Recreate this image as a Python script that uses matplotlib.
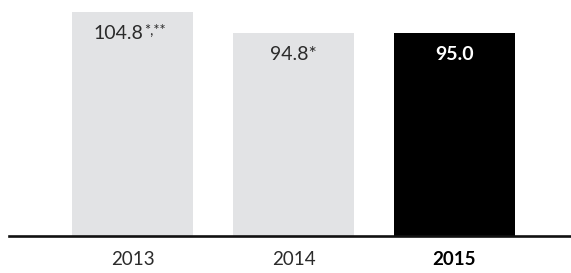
import matplotlib
matplotlib.use("Agg")
import matplotlib.pyplot as plt

plt.rcParams["font.family"] = ["Lato", "DejaVu Sans"]

years = ["2013", "2014", "2015"]
values = [104.8, 94.8, 95.0]
value_labels = ["104.8", "94.8*", "95.0"]
value_notes = ["*,**", "", ""]
bar_colors = ["#e2e3e5", "#e2e3e5", "#000000"]
label_colors = ["#2b2b2b", "#2b2b2b", "#ffffff"]
label_weights = ["normal", "normal", "bold"]

fig = plt.figure(figsize=(5.71, 2.73), dpi=100)
ax = fig.add_axes([9 / 571, 37.5 / 273, 562 / 571, 235.5 / 273])

x = list(range(len(years)))
ax.bar(x, values, width=0.75, color=bar_colors, zorder=2)

ax.set_xlim(-0.767, 2.724)
ax.set_ylim(0, 110.4)

for xi, v, lab, note, c, w in zip(x, values, value_labels, value_notes,
                                   label_colors, label_weights):
    # shift left when a superscript note follows, so the whole string stays centred
    dx = -10 if note else 0
    t = ax.annotate(lab, xy=(xi, v), xytext=(dx, -15.5), textcoords="offset points",
                    ha="center", va="center", fontsize=14, color=c, fontweight=w)
    if note:
        ax.annotate(note, xy=(1, 1), xycoords=t, xytext=(0.5, 1), textcoords="offset points",
                    ha="left", va="top", fontsize=10.5, color=c)

ax.set_xticks(x)
ax.set_xticklabels(years, fontsize=13.5, color="#2b2b2b")
ax.get_xticklabels()[2].set_fontweight("bold")
ax.get_xticklabels()[2].set_color("#000000")
ax.tick_params(axis="x", length=0, pad=11)
ax.set_yticks([])

for side in ["top", "left", "right"]:
    ax.spines[side].set_visible(False)
ax.spines["bottom"].set_linewidth(1.9)
ax.spines["bottom"].set_color("#111111")
ax.spines["bottom"].set_zorder(3)
ax.patch.set_visible(False)

fig.savefig("out.png", dpi=100)
